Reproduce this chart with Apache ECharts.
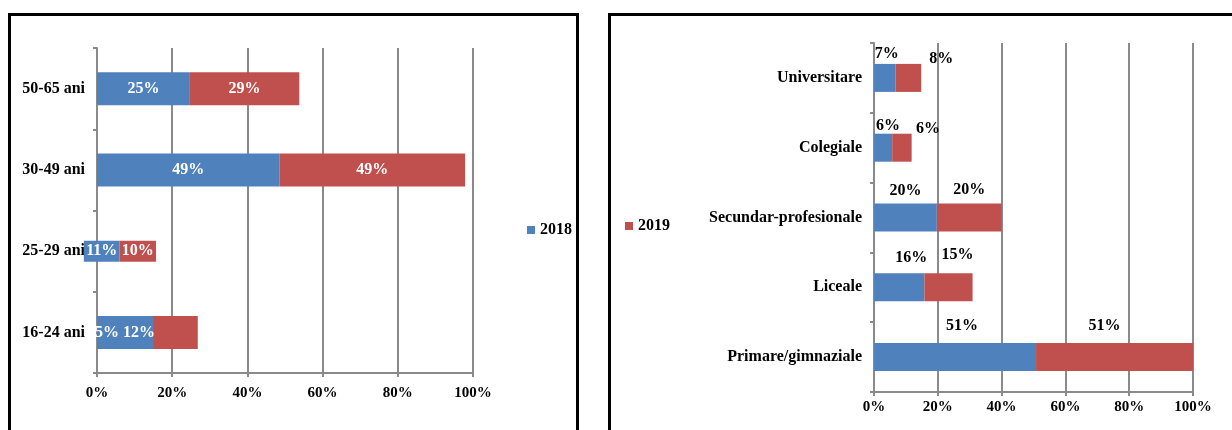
<!DOCTYPE html>
<html>
<head>
<meta charset="utf-8">
<script src="https://cdn.jsdelivr.net/npm/echarts@6/dist/echarts.min.js"></script>
<style>
  body { margin: 0; background: #fff; }
  .box { position: absolute; border: 3px solid #000; box-sizing: border-box; }
  #chart { position: absolute; left: 0; top: 0; width: 1232px; height: 430px; }
</style>
</head>
<body>
<div class="box" style="left:8px;top:13px;width:571px;height:440px"></div>
<div class="box" style="left:608px;top:13px;width:700px;height:440px"></div>
<div id="chart"></div>
<script>
	'use strict';

	/* age groups (left panel), bar lengths in % as drawn */
	var ageGroups = ['50-65 ani', '30-49 ani', '25-29 ani', '16-24 ani'];
	var ageShift = [0, 0, -3.5, 0];
	var age2018 = [24.7, 48.5, 9.5, 14.9];
	var age2019 = [29.1, 49.4, 9.7, 11.9];
	var ageLabels2018 = ['25%', '49%', '11%', '5% 12%'];
	var ageLabels2019 = ['29%', '49%', '10%', ''];
	var thinRow = 2;

	/* education (right panel) */
	var eduGroups = ['Universitare', 'Colegiale', 'Secundar-profesionale', 'Liceale', 'Primare/gimnaziale'];
	var edu2018 = [6.7, 5.7, 19.7, 15.8, 50.8];
	var edu2019 = [8.1, 6.1, 20.3, 15.1, 49.5];
	var eduLabels2018 = ['7%', '6%', '20%', '16%', '51%'];
	var eduLabels2019 = ['8%', '6%', '20%', '15%', '51%'];

	var pctTicks = [0, 20, 40, 60, 80, 100];

	/* label nudges for the right panel */
	var eduShift2018 = [[2, 3], [5, 5], [0, 0], [12, -2], [7, -4]];
	var eduShift2019 = [[33, 8], [26, 8], [0, -1], [9, -5], [-10, -4]];

	var font = 'Liberation Serif';
	var blue = '#4F81BD';
	var red = '#C0504D';
	var gray = '#8a8a8a';

	function pick(arr, keep) {
		return arr.map(function (v, i) { return keep(i) ? v : '-'; });
	}

	function valueAxis(grid, margin) {
		return {
			type: 'value',
			gridIndex: grid,
			min: pctTicks[0],
			max: pctTicks[pctTicks.length - 1],
			interval: pctTicks[1] - pctTicks[0],
			axisLine: { show: true, lineStyle: { color: gray, width: 2 } },
			axisTick: { show: true, length: 4, lineStyle: { color: gray, width: 2 } },
			splitLine: { show: true, lineStyle: { color: gray, width: 2 } },
			axisLabel: {
				margin: margin,
				color: '#000',
				fontFamily: font,
				fontWeight: 'bold',
				fontSize: 15,
				formatter: '{value}%'
			}
		};
	}

	function catAxis(grid, data) {
		return {
			type: 'category',
			gridIndex: grid,
			data: data,
			inverse: true,
			axisLine: { show: true, lineStyle: { color: gray, width: 2 } },
			axisTick: { show: true, length: 4, lineStyle: { color: gray, width: 2 } },
			splitLine: { show: false },
			axisLabel: {
				margin: 12,
				color: '#000',
				fontFamily: font,
				fontWeight: 'bold',
				fontSize: 16
			}
		};
	}

	function insideLabel(texts) {
		return {
			show: true,
			position: 'inside',
			color: '#fff',
			fontFamily: font,
			fontWeight: 'bold',
			fontSize: 16,
			formatter: function (p) { return texts[p.dataIndex]; }
		};
	}

	function ageBar(name, values, color, texts, thin) {
		return {
			name: name,
			type: 'bar',
			xAxisIndex: 0,
			yAxisIndex: thin ? 1 : 0,
			stack: thin ? 'ageThin' : 'age',
			stackStrategy: 'all',
			barWidth: thin ? 21 : 33,
			clip: false,
			data: pick(values, function (i) { return thin ? i === thinRow : i !== thinRow; }),
			itemStyle: { color: color },
			label: insideLabel(texts)
		};
	}

	function eduBar(name, values, color, texts, shifts) {
		return {
			name: name,
			type: 'bar',
			xAxisIndex: 1,
			yAxisIndex: 2,
			stack: 'edu',
			barWidth: 28,
			data: values.map(function (v, i) {
				return { value: v, label: { offset: shifts[i] } };
			}),
			itemStyle: { color: color },
			label: {
				show: true,
				position: 'top',
				color: '#000',
				fontFamily: font,
				fontWeight: 'bold',
				fontSize: 16,
				formatter: function (p) { return texts[p.dataIndex]; }
			}
		};
	}

	var legendText = { color: '#000', fontFamily: font, fontWeight: 'bold', fontSize: 16 };

	var option = {
		animation: false,
		grid: [
			{ left: 97, top: 48, width: 376, height: 325, outerBoundsMode: 'none' },
			{ left: 874, top: 43, width: 319, height: 349, outerBoundsMode: 'none' }
		],
		legend: [
			{ data: ['2018'], left: 527, top: 222, padding: 0, icon: 'rect', itemWidth: 8, itemHeight: 8, textStyle: legendText },
			{ data: ['2019'], left: 625, top: 218, padding: 0, icon: 'rect', itemWidth: 8, itemHeight: 8, textStyle: legendText }
		],
		xAxis: [valueAxis(0, 13), valueAxis(1, 8)],
		yAxis: [
			catAxis(0, ageGroups),
			{ type: 'category', gridIndex: 0, data: ageGroups, inverse: true, show: false },
			catAxis(1, eduGroups)
		],
		series: [
			ageBar('2018', age2018, blue, ageLabels2018, false),
			ageBar('2019', age2019, red, ageLabels2019, false),
			{
				name: 'shift',
				type: 'bar',
				xAxisIndex: 0,
				yAxisIndex: 1,
				stack: 'ageThin',
				stackStrategy: 'all',
				barWidth: 21,
				silent: true,
				data: pick(ageShift, function (i) { return i === thinRow; }),
				itemStyle: { color: 'transparent' }
			},
			ageBar('2018', age2018, blue, ageLabels2018, true),
			ageBar('2019', age2019, red, ageLabels2019, true),
			eduBar('2018', edu2018, blue, eduLabels2018, eduShift2018),
			eduBar('2019', edu2019, red, eduLabels2019, eduShift2019)
		]
	};

	var chart = echarts.init(document.getElementById('chart'));
	chart.setOption(option);
	window.addEventListener('resize', function () {
		chart.resize();
	});
</script>
</body>
</html>
